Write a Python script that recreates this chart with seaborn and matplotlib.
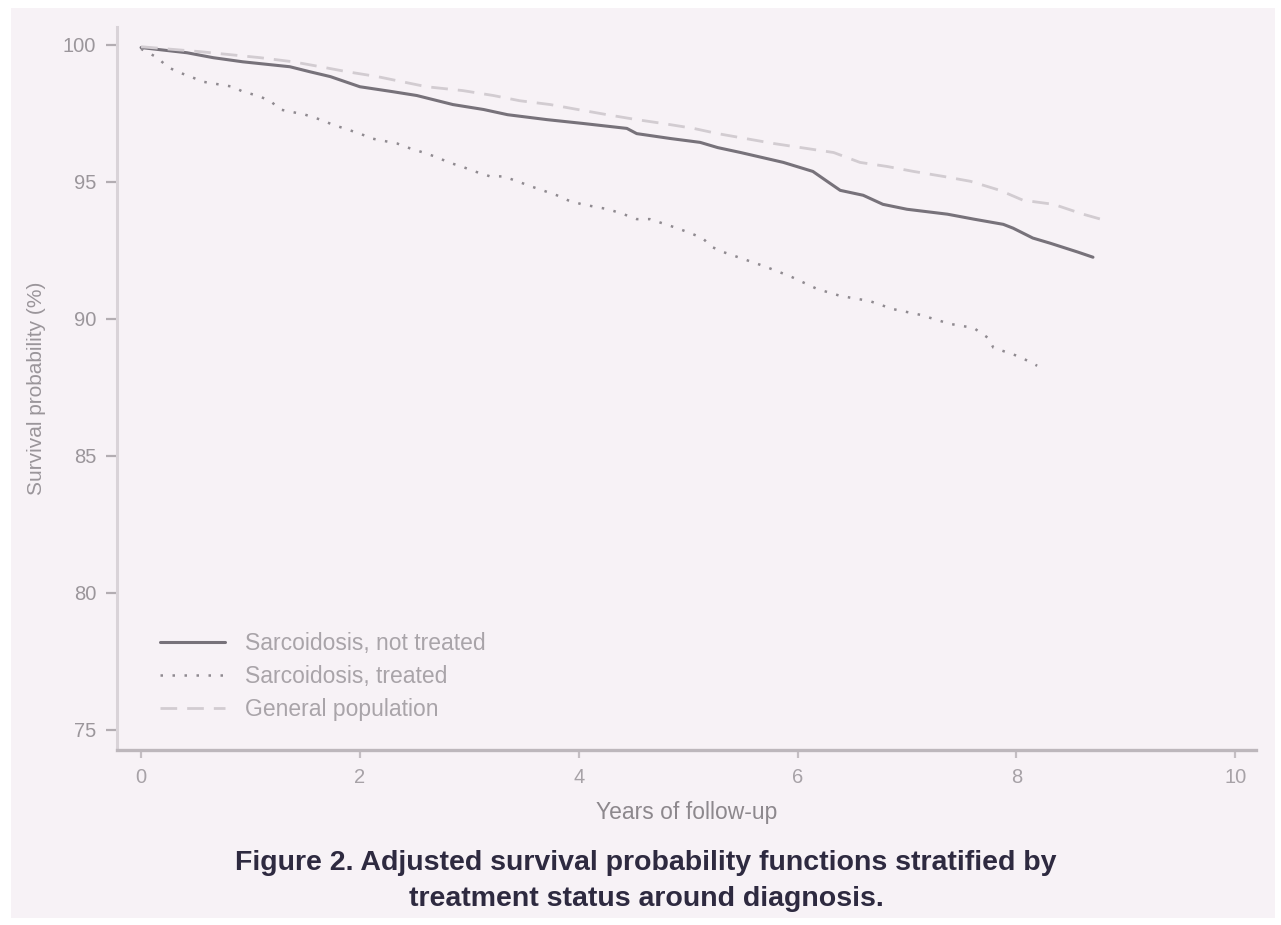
import numpy as np
import pandas as pd
import matplotlib
matplotlib.use("Agg")
import matplotlib.pyplot as plt
from matplotlib.patches import Rectangle
import seaborn as sns

# Adjusted survival curves (years of follow-up, survival %)
years_not_treated = [0.00, 0.42, 0.66, 0.93, 1.36, 1.54, 1.73, 2.00, 2.30, 2.52, 2.85,
                     3.13, 3.35, 3.71, 4.04, 4.44, 4.53, 4.84, 5.11, 5.27, 5.48, 5.87,
                     6.14, 6.27, 6.39, 6.60, 6.78, 7.00, 7.37, 7.61, 7.88, 7.97, 8.15,
                     8.31, 8.56, 8.70]
surv_not_treated = [99.90, 99.71, 99.53, 99.38, 99.20, 99.02, 98.84, 98.47, 98.29, 98.15,
                    97.82, 97.64, 97.45, 97.27, 97.13, 96.95, 96.76, 96.58, 96.44, 96.25,
                    96.07, 95.71, 95.38, 95.02, 94.69, 94.51, 94.18, 94.00, 93.82, 93.64,
                    93.45, 93.31, 92.95, 92.76, 92.44, 92.25]

years_treated = [0.00, 0.15, 0.24, 0.33, 0.45, 0.57, 0.84, 0.93, 1.06, 1.18, 1.27, 1.50,
                 1.64, 1.75, 2.00, 2.11, 2.34, 2.46, 2.58, 2.71, 2.81, 2.93, 3.05, 3.19,
                 3.31, 3.44, 3.56, 3.67, 3.80, 3.90, 4.03, 4.27, 4.41, 4.53, 4.65, 4.90,
                 5.02, 5.13, 5.22, 5.32, 5.69, 5.93, 6.18, 6.39, 6.66, 6.87, 7.12, 7.39,
                 7.61, 7.74, 7.79, 8.03, 8.19]
surv_treated = [99.85, 99.53, 99.20, 99.02, 98.84, 98.65, 98.47, 98.29, 98.15, 97.96,
                97.64, 97.45, 97.27, 97.09, 96.76, 96.58, 96.40, 96.22, 96.07, 95.89,
                95.71, 95.56, 95.38, 95.20, 95.20, 95.02, 94.84, 94.69, 94.51, 94.33,
                94.18, 94.00, 93.82, 93.64, 93.64, 93.31, 93.13, 92.95, 92.62, 92.44,
                91.93, 91.56, 91.09, 90.84, 90.65, 90.36, 90.15, 89.82, 89.67, 89.31,
                88.95, 88.62, 88.29]

years_general = [0.00, 0.54, 1.09, 1.39, 1.64, 1.88, 2.16, 2.39, 2.61, 2.94, 3.22, 3.46,
                 3.74, 3.99, 4.26, 4.53, 4.77, 5.05, 5.27, 5.78, 6.33, 6.57, 6.82, 7.06,
                 7.33, 7.58, 7.85, 8.06, 8.34, 8.61, 8.77]
surv_general = [99.93, 99.75, 99.53, 99.38, 99.20, 99.02, 98.84, 98.65, 98.47, 98.33,
                98.15, 97.96, 97.82, 97.64, 97.45, 97.27, 97.13, 96.95, 96.76, 96.40,
                96.07, 95.71, 95.56, 95.38, 95.20, 95.02, 94.69, 94.33, 94.18, 93.82,
                93.64]

labels = ["Sarcoidosis, not treated", "Sarcoidosis, treated", "General population"]
x_ticks = [0, 2, 4, 6, 8, 10]
y_ticks = [75, 80, 85, 90, 95, 100]

W, H = 1281, 925
panel = "#f7f2f6"

sns.set_theme(style="white")
plt.rcParams["font.family"] = ["Liberation Sans", "DejaVu Sans"]

fig = plt.figure(figsize=(W / 100, H / 100), dpi=100, facecolor="white")
fig.patches.append(Rectangle((11 / W, 1 - 918 / H), (1275 - 11) / W, (918 - 8) / H,
                             transform=fig.transFigure, facecolor=panel,
                             edgecolor="none", zorder=-5))

ax = fig.add_axes([117 / W, 1 - 750 / H, (1256 - 117) / W, (750 - 27) / H])
ax.set_facecolor(panel)
ax.set_zorder(2)

df_nt = pd.DataFrame({"years": years_not_treated, "surv": surv_not_treated})
df_t = pd.DataFrame({"years": years_treated, "surv": surv_treated})
df_g = pd.DataFrame({"years": years_general, "surv": surv_general})

sns.lineplot(data=df_nt, x="years", y="surv", ax=ax, color="#77727a",
             linewidth=2.2, label=labels[0], errorbar=None)
sns.lineplot(data=df_t, x="years", y="surv", ax=ax, color="#8f8a90",
             linewidth=1.8, linestyle=(0, (1, 3.8)), label=labels[1], errorbar=None)
sns.lineplot(data=df_g, x="years", y="surv", ax=ax, color="#d2ccd1",
             linewidth=2.0, linestyle=(0, (6, 3.6)), label=labels[2], errorbar=None)

ax.set_xlim(-0.22, 10.19)
ax.set_ylim(74.27, 100.65)
ax.set_xticks(x_ticks)
ax.set_yticks(y_ticks)

for s in ["top", "right"]:
    ax.spines[s].set_visible(False)
ax.spines["left"].set_color("#d9d3d8")
ax.spines["left"].set_linewidth(2.2)
ax.spines["bottom"].set_color("#bdb7bc")
ax.spines["bottom"].set_linewidth(2.4)

ax.tick_params(axis="y", direction="out", length=8, width=1.6, color="#b3adb2",
               pad=7, labelsize=14.5, labelcolor="#9b969b", left=True)
ax.tick_params(axis="x", direction="out", length=6, width=1.6, color="#c4bec3",
               pad=7, labelsize=14.5, labelcolor="#a7a2a7", bottom=True)

ax.set_xlabel("Years of follow-up", fontsize=16.5, color="#8d888d", labelpad=10)
ax.set_ylabel("Survival probability (%)", fontsize=15, color="#9a959a", labelpad=12)

leg = ax.legend(loc="lower left", bbox_to_anchor=(0.0297, 0.028), frameon=False,
                fontsize=16.5, handlelength=2.85, handletextpad=0.85, labelspacing=0.42,
                borderaxespad=0)
for t in leg.get_texts():
    t.set_color("#a9a4a9")

fig.text(646 / W, 1 - 881 / H,
         "Figure 2. Adjusted survival probability functions stratified by\n"
         "treatment status around diagnosis.",
         ha="center", va="center", fontsize=20.5, fontweight="bold",
         color="#2e2a40", linespacing=1.5)

fig.savefig("out.png", dpi=100, facecolor=fig.get_facecolor())
